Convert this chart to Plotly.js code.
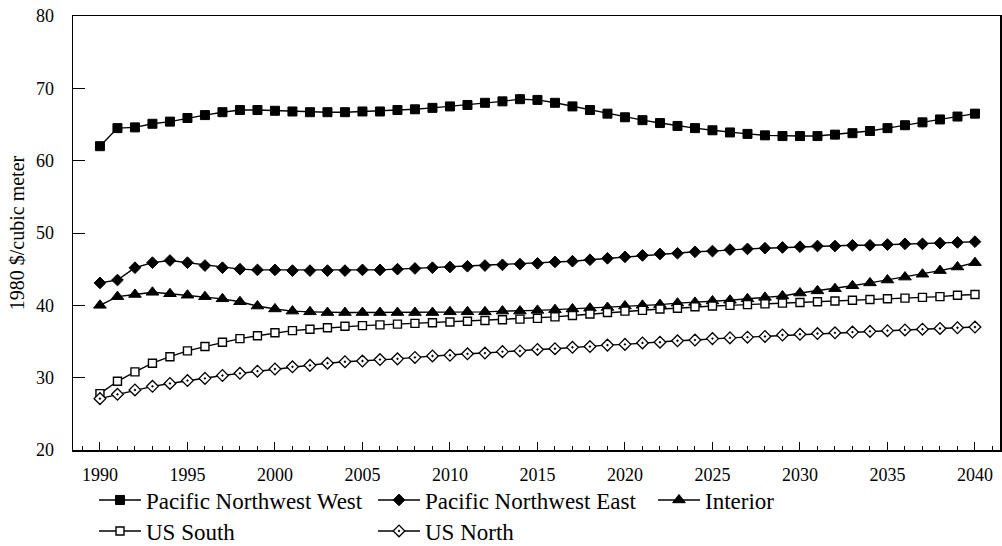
<!DOCTYPE html>
<html>
<head>
<meta charset="utf-8">
<script src="https://cdn.plot.ly/plotly-3.0.1.min.js"></script>
<style>html,body{margin:0;padding:0;background:#fff;}#chart{width:1002px;height:546px;}</style>
</head>
<body>
<div id="chart"></div>
<script>
const years = [1990,1991,1992,1993,1994,1995,1996,1997,1998,1999,
  2000,2001,2002,2003,2004,2005,2006,2007,2008,2009,
  2010,2011,2012,2013,2014,2015,2016,2017,2018,2019,
  2020,2021,2022,2023,2024,2025,2026,2027,2028,2029,
  2030,2031,2032,2033,2034,2035,2036,2037,2038,2039,2040];

const pnwWest = [62.0,64.5,64.6,65.1,65.4,65.9,66.3,66.7,67.0,67.0,
  66.9,66.8,66.7,66.7,66.7,66.8,66.8,67.0,67.1,67.3,
  67.5,67.7,68.0,68.2,68.5,68.4,68.0,67.5,67.0,66.5,
  66.0,65.6,65.2,64.8,64.5,64.2,63.9,63.7,63.5,63.4,
  63.4,63.4,63.6,63.8,64.1,64.5,64.9,65.3,65.7,66.1,66.5];

const pnwEast = [43.1,43.5,45.2,45.9,46.2,45.9,45.5,45.2,45.0,44.9,
  44.9,44.8,44.8,44.8,44.8,44.9,44.9,45.0,45.1,45.2,
  45.3,45.4,45.5,45.6,45.7,45.8,46.0,46.1,46.3,46.5,
  46.7,46.9,47.1,47.2,47.4,47.5,47.7,47.8,47.9,48.0,
  48.1,48.2,48.2,48.3,48.3,48.4,48.5,48.5,48.6,48.7,48.8];

const interior = [40.0,41.2,41.5,41.8,41.6,41.4,41.2,40.9,40.5,39.9,
  39.5,39.2,39.1,39.0,39.0,39.0,39.0,39.0,39.0,39.0,
  39.1,39.1,39.1,39.2,39.2,39.3,39.4,39.5,39.6,39.7,
  39.9,40.0,40.1,40.3,40.4,40.6,40.7,40.9,41.1,41.3,
  41.7,42.0,42.3,42.7,43.1,43.5,43.9,44.3,44.8,45.3,45.9];

const usSouth = [27.8,29.5,30.8,32.0,32.9,33.7,34.3,34.9,35.4,35.8,
  36.2,36.5,36.7,36.9,37.1,37.2,37.3,37.4,37.5,37.6,
  37.7,37.8,37.9,38.0,38.1,38.2,38.4,38.6,38.8,39.0,
  39.2,39.3,39.5,39.6,39.8,39.9,40.0,40.1,40.2,40.3,
  40.4,40.5,40.6,40.7,40.8,40.9,41.0,41.1,41.2,41.4,41.5];

const usNorth = [27.1,27.7,28.3,28.8,29.2,29.6,29.9,30.3,30.6,30.9,
  31.2,31.5,31.7,32.0,32.2,32.3,32.5,32.6,32.8,33.0,
  33.1,33.3,33.4,33.6,33.7,33.9,34.0,34.2,34.3,34.5,
  34.6,34.8,34.9,35.1,35.2,35.4,35.5,35.6,35.7,35.9,
  36.0,36.1,36.2,36.3,36.4,36.5,36.6,36.7,36.8,36.9,37.0];

const seriesNames = ["Pacific Northwest West","Pacific Northwest East","Interior","US South","US North"];
const xTickVals = [1990,1995,2000,2005,2010,2015,2020,2025,2030,2035,2040];
const yTickVals = [20,30,40,50,60,70,80];

const FONT = "Liberation Serif, Times New Roman, serif";

function tr(y, name, sym, size, fill, lw, legendId) {
  return {
    x: years, y: y, name: name, type: 'scatter', mode: 'lines+markers',
    line: {color: '#000', width: 1.4},
    marker: {symbol: sym, size: size, color: fill, line: {color: '#000', width: lw}},
    legend: legendId
  };
}

const data = [
  tr(pnwWest, seriesNames[0], 'square', 9, '#000', 1, 'legend'),
  tr(pnwEast, seriesNames[1], 'diamond', 9, '#000', 1, 'legend2'),
  tr(interior, seriesNames[2], 'triangle-up', 11, '#000', 1, 'legend3'),
  tr(usSouth, seriesNames[3], 'square', 8, '#fff', 1.4, 'legend4'),
  tr(usNorth, seriesNames[4], 'diamond-dot', 9, '#fff', 1.3, 'legend5')
];

function px2x(p) { return (p - 73) / 927; }
function px2y(p) { return (450 - p) / 434; }
function leg(xp, yp) {
  return {x: px2x(xp), y: px2y(yp), xanchor: 'left', yanchor: 'middle',
    orientation: 'h', bgcolor: 'rgba(0,0,0,0)', borderwidth: 0, itemwidth: 42,
    font: {family: FONT, size: 23, color: '#000'}};
}

const layout = {
  width: 1002, height: 546,
  margin: {l: 73, r: 2, t: 16, b: 96, pad: 0, autoexpand: false},
  paper_bgcolor: '#fff', plot_bgcolor: '#fff',
  font: {family: FONT, color: '#000'},
  showlegend: true,
  xaxis: {
    range: [1988.46, 2041.43], showgrid: false, zeroline: false,
    showline: true, linecolor: '#000', linewidth: 1.5, mirror: true,
    tickmode: 'array', tickvals: xTickVals, ticktext: xTickVals.map(String),
    ticks: 'inside', ticklen: 8, tickwidth: 1, tickcolor: '#000',
    minor: {dtick: 1, tick0: 1990, ticks: 'inside', ticklen: 4, tickwidth: 1, tickcolor: '#000', showgrid: false},
    tickfont: {family: FONT, size: 18, color: '#000'},
    ticklabelstandoff: 8,
    automargin: false,
    fixedrange: true
  },
  yaxis: {
    range: [20, 80], showgrid: false, zeroline: false,
    showline: true, linecolor: '#000', linewidth: 1.5, mirror: true,
    tickmode: 'array', tickvals: yTickVals, ticktext: yTickVals.map(String),
    ticks: 'inside', ticklen: 12, tickwidth: 1, tickcolor: '#000',
    tickfont: {family: FONT, size: 18, color: '#000'},
    ticklabelstandoff: 14,
    title: {text: '1980 $/cubic meter', font: {family: FONT, size: 20, color: '#000'}, standoff: 6},
    automargin: false,
    fixedrange: true
  },
  legend: leg(94, 500),
  legend2: leg(373, 500),
  legend3: leg(653, 500),
  legend4: leg(94, 531),
  legend5: leg(373, 531)
};

Plotly.newPlot('chart', data, layout, {displayModeBar: false, staticPlot: true});
</script>
</body>
</html>
